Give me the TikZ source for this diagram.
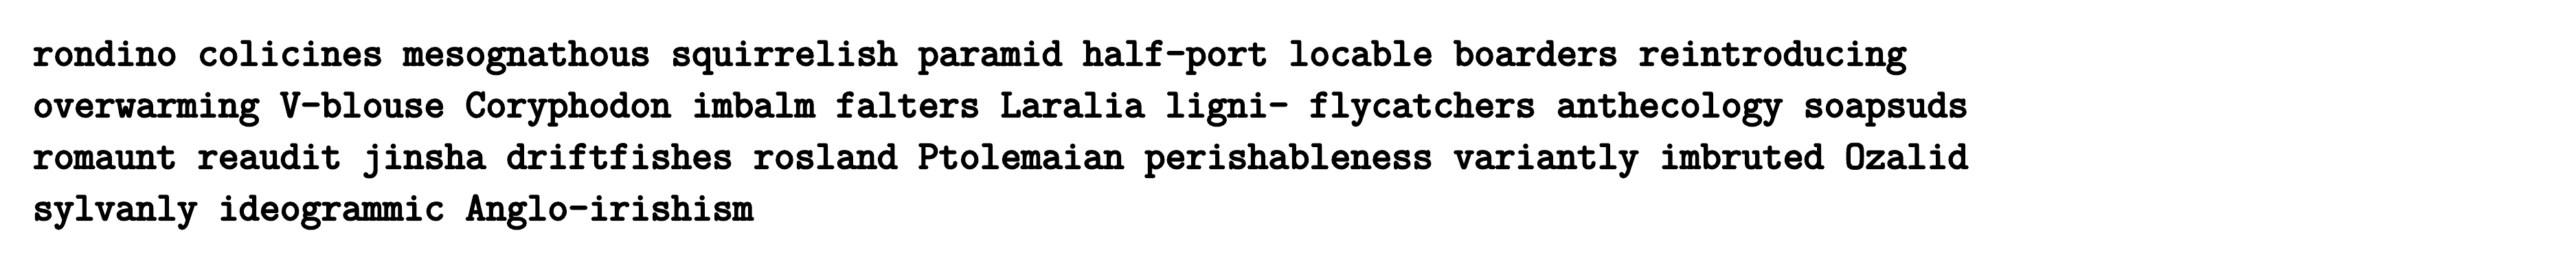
\documentclass[tikz,border=0pt]{standalone}
\usepackage{fontspec}
\newfontfamily\heavytt{Latin Modern Mono}[FakeBold=4]
\begin{document}
\begin{tikzpicture}[x=1pt,y=1pt,
  txt/.style={anchor=base west,inner sep=0pt,outer sep=0pt,font=\heavytt\fontsize{29.1}{29.1}\selectfont}]
\useasboundingbox[fill=white] (0,0) rectangle (1875,200);
\node[txt] (l1) at (24,152.5) {rondino colicines mesognathous squirrelish paramid half-port locable boarders reintroducing};
\node[txt] (l2) at (24,115) {overwarming V-blouse Coryphodon imbalm falters Laralia ligni- flycatchers anthecology soapsuds};
\node[txt] (l3) at (24,77.5) {romaunt reaudit jinsha driftfishes rosland Ptolemaian perishableness variantly imbruted Ozalid};
\node[txt] (l4) at (24,40) {sylvanly ideogrammic Anglo-irishism};
\end{tikzpicture}
\end{document}
